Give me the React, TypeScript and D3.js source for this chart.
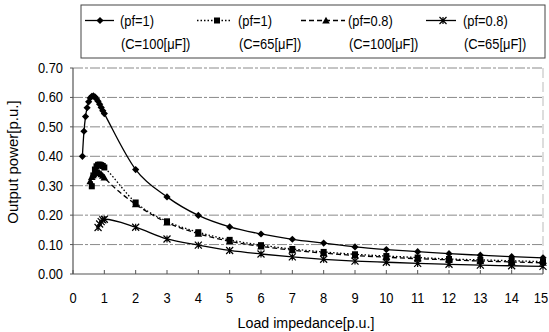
import React from "react";
import * as d3 from "d3";

// ---- data ----
const xTicks = [0, 1, 2, 3, 4, 5, 6, 7, 8, 9, 10, 11, 12, 13, 14, 15];
const yTicks = [0, 0.1, 0.2, 0.3, 0.4, 0.5, 0.6, 0.7];

const zPf1C100 = [0.3, 0.35, 0.4, 0.45, 0.5, 0.55, 0.6, 0.65, 0.7, 0.75, 0.8, 0.85, 0.9, 0.95, 1.0, 2, 3, 4, 5, 6, 7, 8, 9, 10, 11, 12, 13, 14, 15];
const pPf1C100 = [0.40, 0.485, 0.535, 0.565, 0.585, 0.598, 0.604, 0.605, 0.602, 0.595, 0.587, 0.577, 0.566, 0.555, 0.545, 0.355, 0.262, 0.199, 0.160, 0.136, 0.118, 0.105, 0.092, 0.083, 0.076, 0.069, 0.064, 0.059, 0.055];

const zPf1C65 = [0.6, 0.65, 0.7, 0.75, 0.8, 0.85, 0.9, 0.95, 1.0, 2, 3, 4, 5, 6, 7, 8, 9, 10, 11, 12, 13, 14, 15];
const pPf1C65 = [0.298, 0.335, 0.355, 0.366, 0.371, 0.372, 0.370, 0.367, 0.362, 0.243, 0.179, 0.142, 0.116, 0.098, 0.085, 0.075, 0.067, 0.061, 0.056, 0.051, 0.048, 0.045, 0.042];

const zPf08C100 = [0.55, 0.6, 0.65, 0.7, 0.75, 0.8, 0.85, 0.9, 0.95, 1.0, 2, 3, 4, 5, 6, 7, 8, 9, 10, 11, 12, 13, 14, 15];
const pPf08C100 = [0.315, 0.330, 0.340, 0.345, 0.347, 0.346, 0.343, 0.339, 0.334, 0.328, 0.237, 0.175, 0.137, 0.111, 0.094, 0.081, 0.071, 0.063, 0.057, 0.052, 0.048, 0.044, 0.041, 0.038];

const zPf08C65 = [0.8, 0.85, 0.9, 0.95, 1.0, 2, 3, 4, 5, 6, 7, 8, 9, 10, 11, 12, 13, 14, 15];
const pPf08C65 = [0.158, 0.170, 0.178, 0.184, 0.186, 0.159, 0.119, 0.098, 0.080, 0.068, 0.058, 0.050, 0.044, 0.040, 0.036, 0.033, 0.030, 0.028, 0.026];

const legendLine1 = ["(pf=1)", "(pf=1)", "(pf=0.8)", "(pf=0.8)"];
const legendLine2 = ["(C=100[μF])", "(C=65[μF])", "(C=100[μF])", "(C=65[μF])"];

const xTitle = "Load impedance[p.u.]";
const yTitle = "Output power[p.u.]";

// ---- layout ----
const W = 549, H = 332;
const FONT = "'Liberation Sans', Arial, sans-serif";
const x = d3.scaleLinear().domain([0, 15]).range([73, 543]);
const y = d3.scaleLinear().domain([0, 0.7]).range([274, 68]);

type Marker = "diamond" | "square" | "triangle" | "star";
const series: { z: number[]; p: number[]; marker: Marker; dash: string | undefined }[] = [
  { z: zPf1C100, p: pPf1C100, marker: "diamond", dash: undefined },
  { z: zPf1C65, p: pPf1C65, marker: "square", dash: "1.5,2" },
  { z: zPf08C100, p: pPf08C100, marker: "triangle", dash: "5,3" },
  { z: zPf08C65, p: pPf08C65, marker: "star", dash: undefined },
];

function NText({ x: tx, y: ty, sx = 0.86, size = 15, anchor = "start", rotate = 0, children }: any) {
  return (
    <text
      transform={`translate(${tx},${ty}) rotate(${rotate}) scale(${sx},1)`}
      textAnchor={anchor}
      fontSize={size}
      fill="#000"
    >
      {children}
    </text>
  );
}

function MarkerShape({ type, cx, cy }: { type: Marker; cx: number; cy: number }) {
  if (type === "diamond") {
    const s = 3.6;
    return <path d={`M${cx},${cy - s}L${cx + s},${cy}L${cx},${cy + s}L${cx - s},${cy}Z`} fill="#000" />;
  }
  if (type === "square") {
    const s = 3;
    return <rect x={cx - s} y={cy - s} width={2 * s} height={2 * s} fill="#000" />;
  }
  if (type === "triangle") {
    const s = 3.8;
    return <path d={`M${cx},${cy - s}L${cx + s},${cy + s * 0.8}L${cx - s},${cy + s * 0.8}Z`} fill="#000" />;
  }
  const s = 3.5;
  return (
    <path
      d={`M${cx - s},${cy - s}L${cx + s},${cy + s}M${cx - s},${cy + s}L${cx + s},${cy - s}M${cx},${cy - s}L${cx},${cy + s}`}
      stroke="#000"
      strokeWidth={1.2}
      fill="none"
    />
  );
}

export default function App() {
  const line = d3
    .line<[number, number]>()
    .x((d) => x(d[0]))
    .y((d) => y(d[1]))
    .curve(d3.curveMonotoneX);

  const legendItems = [
    { lx0: 85, lx1: 114, mx: 100, tx: 120 },
    { lx0: 197, lx1: 232, mx: 217, tx: 238 },
    { lx0: 301, lx1: 345, mx: 326, tx: 348 },
    { lx0: 426, lx1: 456, mx: 443, tx: 463 },
  ];

  return (
    <svg
      width={W}
      height={H}
      style={{ position: "absolute", left: 0, top: 0, background: "#fff" }}
      fontFamily={FONT}
    >
      <rect width={W} height={H} fill="#fff" />
      {/* gridlines */}
      {yTicks.slice(1).map((t) => (
        <line key={"g" + t} x1={x(0)} x2={x(15)} y1={y(t)} y2={y(t)} stroke="#8a8a8a" strokeWidth={1} strokeDasharray="10,2,3,2" />
      ))}
      {/* right border */}
      <line x1={x(15)} x2={x(15)} y1={y(0.7)} y2={y(0)} stroke="#bbb" strokeWidth={1} strokeDasharray="10,4" />
      {/* axes */}
      <line x1={x(0)} x2={x(0)} y1={y(0.7)} y2={y(0)} stroke="#555" strokeWidth={1.2} />
      <line x1={x(0)} x2={x(15)} y1={y(0)} y2={y(0)} stroke="#555" strokeWidth={1.2} />
      {xTicks.map((t) => (
        <g key={"xt" + t}>
          <line x1={x(t)} x2={x(t)} y1={y(0)} y2={y(0) - 4} stroke="#555" strokeWidth={1} />
          <NText x={t === 15 ? x(t) - 2 : x(t)} y={303} anchor="middle">
            {t}
          </NText>
        </g>
      ))}
      {yTicks.map((t) => (
        <g key={"yt" + t}>
          <line x1={x(0) - 3} x2={x(0)} y1={y(t)} y2={y(t)} stroke="#555" strokeWidth={1} />
          <NText x={63} y={y(t) + 5} anchor="end">
            {d3.format(".2f")(t)}
          </NText>
        </g>
      ))}
      {/* titles */}
      <NText x={306} y={328} anchor="middle" sx={0.95}>
        {xTitle}
      </NText>
      <NText x={18} y={162} anchor="middle" sx={1} rotate={-90}>
        {yTitle}
      </NText>
      {/* series */}
      {series.map((s, i) => {
        const pts = s.z.map((z, j) => [z, s.p[j]] as [number, number]);
        return (
          <g key={"s" + i}>
            <path d={line(pts) || ""} fill="none" stroke="#000" strokeWidth={1.3} strokeDasharray={s.dash} />
            {pts.map((d, j) => (
              <MarkerShape key={j} type={s.marker} cx={x(d[0])} cy={y(d[1])} />
            ))}
          </g>
        );
      })}
      {/* legend */}
      <rect x={81} y={5} width={464} height={53} fill="#fff" stroke="#444" strokeWidth={1} />
      {legendItems.map((it, i) => (
        <g key={"l" + i}>
          <line x1={it.lx0} x2={it.lx1} y1={20.5} y2={20.5} stroke="#000" strokeWidth={1.3} strokeDasharray={series[i].dash} />
          <MarkerShape type={series[i].marker} cx={it.mx} cy={20.5} />
          <NText x={it.tx} y={26}>
            {legendLine1[i]}
          </NText>
          <NText x={it.tx + 1} y={49}>
            {legendLine2[i]}
          </NText>
        </g>
      ))}
    </svg>
  );
}
